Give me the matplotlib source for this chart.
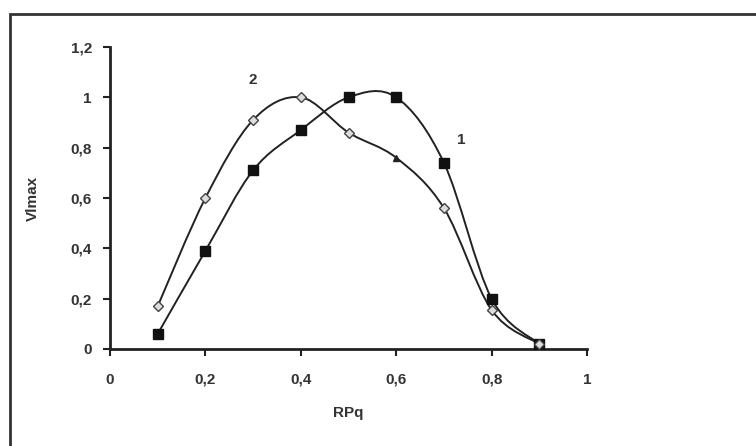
import numpy as np
import matplotlib
matplotlib.use("Agg")
import matplotlib.pyplot as plt
from matplotlib.path import Path
from matplotlib.patches import PathPatch, Rectangle

# Data
rpq = [0.1, 0.2, 0.3, 0.4, 0.5, 0.6, 0.7, 0.8, 0.9]
vmax_1 = [0.06, 0.39, 0.71, 0.87, 1.00, 1.00, 0.74, 0.20, 0.02]
vmax_2 = [0.17, 0.60, 0.91, 1.00, 0.86, 0.76, 0.56, 0.155, 0.02]
x_ticks = [0, 0.2, 0.4, 0.6, 0.8, 1]
y_ticks = [0, 0.2, 0.4, 0.6, 0.8, 1, 1.2]

LINE = "#222222"


def smooth_path(xs, ys):
    # Excel-like smoothed line: cubic Bezier segments through the points
    pts = np.column_stack([xs, ys])
    n = len(pts)
    verts = [pts[0]]
    codes = [Path.MOVETO]
    for i in range(n - 1):
        p0 = pts[i - 1] if i > 0 else pts[i]
        p1 = pts[i]
        p2 = pts[i + 1]
        p3 = pts[i + 2] if i + 2 < n else pts[i + 1]
        c1 = p1 + (p2 - p0) / 6.0
        c2 = p2 - (p3 - p1) / 6.0
        verts += [c1, c2, p2]
        codes += [Path.CURVE4] * 3
    return Path(verts, codes)


def fmt(v):
    s = f"{v:g}"
    return s.replace(".", ",")


fig = plt.figure(figsize=(7.56, 4.46), dpi=100)
plt.rcParams["font.family"] = ["Liberation Sans", "DejaVu Sans"]

# outer frame
fig.patches.append(Rectangle((10 / 756, -0.1), 1.0, (446 - 14) / 446 + 0.1,
                             transform=fig.transFigure, fill=False,
                             edgecolor="#333333", linewidth=2))

ax = fig.add_axes([110 / 756, 97 / 446, 477 / 756, 302 / 446])

for xs, ys in [(rpq, vmax_1), (rpq, vmax_2)]:
    ax.add_patch(PathPatch(smooth_path(xs, ys), facecolor="none",
                           edgecolor=LINE, linewidth=1.4, zorder=2))

ax.plot(rpq, vmax_1, linestyle="none", marker="s", markersize=6.5,
        color="#111111", zorder=3)
idx_d = [i for i in range(len(rpq)) if i != 5]
ax.plot([rpq[i] for i in idx_d], [vmax_2[i] for i in idx_d], linestyle="none",
        marker="D", markersize=5.5, markerfacecolor="#dddddd",
        markeredgecolor="#444444", markeredgewidth=1, zorder=4)
ax.plot([rpq[5]], [vmax_2[5]], linestyle="none", marker="^", markersize=4,
        color="#222222", zorder=4)

ax.text(0.736, 0.83, "1", fontsize=11, fontweight="bold", color="#333333",
        ha="center", va="center")
ax.text(0.30, 1.07, "2", fontsize=11, fontweight="bold", color="#333333",
        ha="center", va="center")

ax.set_xlim(0, 1)
ax.set_ylim(0, 1.2)
ax.set_xticks(x_ticks)
ax.set_xticklabels([fmt(v) for v in x_ticks])
ax.set_yticks(y_ticks)
ax.set_yticklabels([fmt(v) for v in y_ticks])
ax.tick_params(axis="x", pad=12)
ax.tick_params(axis="y", pad=8)
ax.tick_params(direction="out", length=5, width=1.5, colors="#222222",
               labelsize=11)
for lab in ax.get_xticklabels() + ax.get_yticklabels():
    lab.set_fontweight("bold")
    lab.set_color("#333333")
for side in ["top", "right"]:
    ax.spines[side].set_visible(False)
for side in ["left", "bottom"]:
    ax.spines[side].set_linewidth(2)
    ax.spines[side].set_color("#222222")

ax.set_xlabel("RPq", fontsize=11, fontweight="bold", color="#333333", labelpad=14)
ax.set_ylabel("Vlmax", fontsize=11, fontweight="bold", color="#333333", labelpad=22)

fig.savefig("out.png", dpi=100)
